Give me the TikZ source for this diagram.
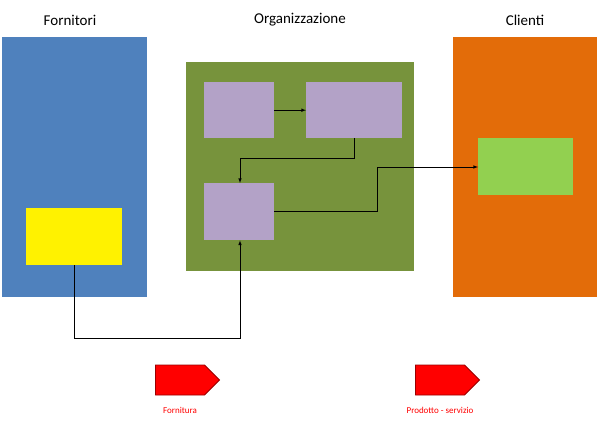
\documentclass[tikz,border=0pt]{standalone}
\usepackage{fontspec}
\setmainfont{Carlito}
\usetikzlibrary{positioning,shapes.arrows}
\definecolor{fornblue}{HTML}{4F81BD}
\definecolor{orggreen}{HTML}{77933C}
\definecolor{clorange}{HTML}{E36C09}
\definecolor{boxlilac}{HTML}{B3A2C7}
\definecolor{cligreen}{HTML}{92D050}
\tikzset{
  area/.style={draw=none, anchor=north west, inner sep=0pt},
  proc/.style={fill=boxlilac, anchor=north west, inner sep=0pt, minimum width=70pt, minimum height=56pt},
  title/.style={font=\fontsize{15}{18}\selectfont},
  flow/.style={->, >=latex, black, line width=0.6pt},
  bigarrow/.style={single arrow, fill=red, draw=red!60!black, line width=0.8pt, minimum height=64pt, minimum width=30pt, single arrow head extend=0pt, single arrow tip angle=90, inner sep=0pt},
  caption/.style={text=red, font=\small}
}
\begin{document}
\begin{tikzpicture}[x=1pt,y=-1pt]
            \useasboundingbox (0,0) rectangle (600,425);
            \node[area, fill=fornblue, minimum width=145pt, minimum height=260pt] (fornitori) at (2,37) {};
            \node[title] (fornitori-label) at (70,20) {Fornitori};
            \node[area, fill=yellow, minimum width=96pt, minimum height=57pt] (fornitura) at (26,208) {};

            \node[area, fill=orggreen, minimum width=228pt, minimum height=209pt] (org) at (186,62) {};
            \node[title] (org-label) at (300,20) {Organizzazione};
            \node[proc] (proc-a) at (204,82) {};
            \node[proc, minimum width=96pt] (proc-b) at (306,82) {};
            \node[proc, minimum height=57pt] (proc-c) at (204,183) {};

            \node[area, fill=clorange, minimum width=144pt, minimum height=260pt] (clienti) at (453,37) {};
            \node[title] (clienti-label) at (525,20) {Clienti};
            \node[area, fill=cligreen, minimum width=95pt, minimum height=57pt] (prodotto) at (478,138) {};

            \draw[flow] (proc-a.east) -- (proc-b.west);
            \draw[flow] (proc-b.south) |- (240,158) -- (proc-c.north -| 240,0);
            \draw[flow] (proc-c.east) -| (377,167) -- (prodotto.west |- 0,167);
            \draw[flow] (fornitura.south) |- (240,338) -- (proc-c.south -| 240,0);

            \node[bigarrow] (arrow-forn) at (180,380) {};
            \node[caption] (arrow-forn-label) at (180,410) {Fornitura};
            \node[bigarrow] (arrow-prod) at (440,380) {};
            \node[caption] (arrow-prod-label) at (440,410) {Prodotto - servizio};
        \end{tikzpicture}
\end{document}
